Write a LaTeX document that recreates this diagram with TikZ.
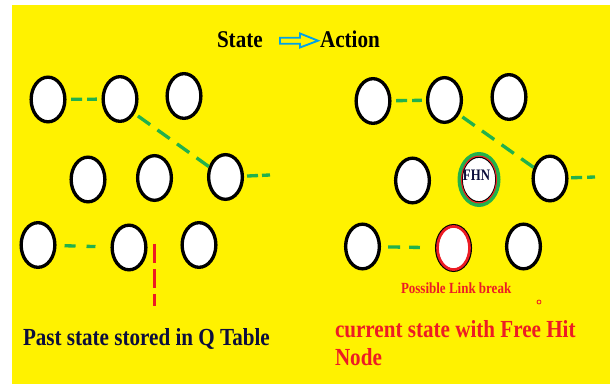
\documentclass[tikz,border=0pt]{standalone}
\usepackage{fontspec}
\setmainfont{Liberation Serif}
\newfontfamily\headfont{Liberation Serif}[FakeStretch=0.88]
\newfontfamily\capfont{Liberation Serif}[FakeStretch=0.86]
\newfontfamily\notefont{Liberation Serif}[FakeStretch=0.84]
\newfontfamily\tagfont{Liberation Serif}[FakeStretch=0.8]
\usetikzlibrary{shapes.geometric}
\definecolor{paintyellow}{RGB}{255,242,0}
\definecolor{paintgreen}{RGB}{34,177,76}
\definecolor{paintred}{RGB}{237,28,36}
\definecolor{paintblue}{RGB}{0,162,232}
\definecolor{inkblue}{RGB}{12,14,60}
\begin{document}
\begin{tikzpicture}[x=0.75pt,y=-0.75pt,
  nodeoval/.style={ellipse, draw=black, fill=white, line width=2.5pt,
    minimum width=25.3pt, minimum height=33.5pt, inner sep=0pt},
  link/.style={draw=paintgreen, line width=2.5pt, dash pattern=on 8.25pt off 3.75pt},
  slant/.style={draw=paintgreen, line width=2.5pt, dash pattern=on 11.25pt off 6.75pt},
  breakline/.style={draw=paintred, line width=2.25pt, dash pattern=on 14.25pt off 4.5pt},
  txt/.style={inner sep=0pt, outer sep=0pt, anchor=base west},
  headtext/.style={txt, font=\headfont\bfseries\fontsize{18pt}{20pt}\selectfont, text=black},
  captext/.style={txt, font=\capfont\bfseries\fontsize{18.4pt}{21pt}\selectfont},
  notetext/.style={txt, font=\notefont\bfseries\fontsize{11.6pt}{13pt}\selectfont, text=paintred},
  tagtext/.style={inner sep=0pt, font=\tagfont\bfseries\fontsize{12pt}{13pt}\selectfont, text=inkblue}]

% canvas and yellow panel
\useasboundingbox (0,0) rectangle (610,384);
\fill[white] (0,0) rectangle (610,384);
\fill[paintyellow] (12,5) rectangle (610,384);

% heading
\node[headtext] (state) at (217,47.5) {State};
\node[headtext] (action) at (320,48) {Action};
\draw[paintblue, line width=1.4pt, line join=miter]
  (280,37.7) -- (300,37.7) -- (300,33.5) -- (318,40.7) -- (300,47.5)
  -- (300,43.8) -- (280,43.8) -- cycle;

% past state (left)
\node[nodeoval] (L1) at (48,99.5) {};
\node[nodeoval] (L2) at (120,99) {};
\node[nodeoval] (L3) at (184,96) {};
\node[nodeoval] (L4) at (88,179.5) {};
\node[nodeoval] (L5) at (154.5,178) {};
\node[nodeoval] (L6) at (225.5,177) {};
\node[nodeoval] (L7) at (38,245) {};
\node[nodeoval] (L8) at (129,247.5) {};
\node[nodeoval] (L9) at (199,245) {};
\coordinate (L6s) at (270,175);
\coordinate (brA) at (154.3,244);
\coordinate (brB) at (154.3,306);

\draw[link, shorten <=3.4pt, shorten >=3.4pt] (L1) -- (L2);
\draw[slant, shorten <=3pt] (L2.-45) -- (L6.148);
\draw[link, dash pattern=on 8.25pt off 3pt, shorten <=2.25pt] (L6) -- (L6s);
\draw[link, dash pattern=on 8.25pt off 8.25pt, shorten <=6pt, shorten >=11.25pt] (L7) -- (L8);
\draw[breakline] (brA) -- (brB);

% current state (right)
\node[nodeoval] (R1) at (373,101) {};
\node[nodeoval] (R2) at (444.5,100) {};
\node[nodeoval] (R3) at (509,97) {};
\node[nodeoval] (R4) at (412.5,180.5) {};
\node[nodeoval, line width=1pt] (FHN) at (479,179.5) {};
\node[nodeoval] (R5) at (550,178.5) {};
\node[nodeoval] (R6) at (362.5,246.5) {};
\node[nodeoval] (R7) at (453.5,248) {};
\node[nodeoval] (R8) at (523.5,246.5) {};
\coordinate (R5s) at (595,177);

% highlighted rings
\draw[paintgreen, line width=3pt] (FHN.center) ellipse [x radius=19.5, y radius=25.5];
\draw[paintred, line width=0.8pt] (FHN.center) ellipse [x radius=17.5, y radius=23.4];
\draw[paintred, line width=2pt] (R7.center) ellipse [x radius=16, y radius=21.6];
\node[tagtext] (fhnlabel) at (476.5,175.5) {FHN};

\draw[link, shorten <=3.4pt, shorten >=3pt] (R1) -- (R2);
\draw[slant, shorten <=3pt] (R2.-45) -- (R5.146);
\draw[link, dash pattern=on 8.25pt off 3.75pt, shorten <=1.9pt] (R5) -- (R5s);
\draw[link, dash pattern=on 9pt off 6.75pt, shorten <=5.25pt, shorten >=11.25pt] (R6) -- (R7);

% notes and captions
\node[notetext] (breaknote) at (401,294) {Possible Link break};
\draw[paintred, line width=0.6pt] (539,302) circle [radius=2];
\node[captext, text=inkblue] (pastcap) at (23,346) {Past state stored in Q Table};
\node[captext, text=paintred] (curcap) at (335,337.7) {current state with Free Hit};
\node[captext, text=paintred] (curcap2) at (335,365.7) {Node};
\end{tikzpicture}
\end{document}
